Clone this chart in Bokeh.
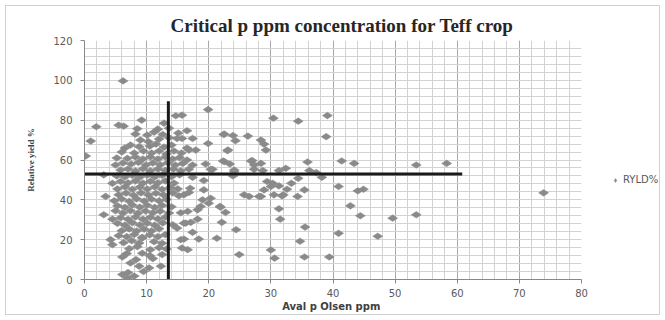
import math
from bokeh.plotting import figure
from bokeh.layouts import row
from bokeh.models import (Range1d, SingleIntervalTicker, Legend, LegendItem, ColumnDataSource)
from bokeh.embed import file_html
from bokeh.resources import INLINE

# ---------------- data ----------------
title_text = "Critical p ppm concentration for Teff crop"
x_label = "Aval p Olsen  ppm"
y_label = "Relative yield %"
series_name = "RYLD%"

# scattered points outside the dense cluster
outer_x = [19.9, 30.4, 34.4, 39.1, 38.9, 22.4, 23.9, 26.3, 28.4, 28.9, 24.3, 19.9, 23.1, 29.2,
           35.9, 41.4, 43.4, 53.4, 58.3, 22.3, 23.4, 26.8, 27.3, 19.5, 20.3, 24.1, 23.9, 27.3,
           28.7, 31.3, 32.4, 36.2, 37.3, 38.2, 34.4, 33.3, 29.4, 30.0, 31.3, 32.6, 28.9, 35.4,
           40.9, 44.0, 44.9, 25.7, 26.5, 28.4, 30.5, 31.8, 34.3, 20.3, 19.0, 20.0, 21.8, 42.8,
           22.7, 31.3, 44.4, 49.6, 53.4, 31.5, 22.1, 35.5, 24.4, 40.9, 47.2, 21.3, 34.7, 30.0,
           24.9, 30.6, 35.4, 39.4, 73.9,
           16.5, 17.4, 16.8, 17.9, 22.5, 23.0, 27.0, 15.7, 17.4, 19.2, 16.0, 19.2, 16.6, 18.2,
           16.3, 18.2, 17.4, 16.0, 18.4, 15.7, 28.1, 16.5, 17.4, 20.6, 22.5, 24.1, 28.4, 16.8,
           18.7, 17.1, 21.9, 30.3, 32.0]
outer_y = [85.3, 81.0, 79.5, 82.3, 71.7, 72.8, 72.3, 72.0, 70.0, 68.0, 69.7, 68.3, 65.0, 65.0,
           59.0, 59.5, 58.3, 57.5, 58.3, 59.5, 58.0, 59.5, 57.5, 58.0, 55.3, 54.2, 52.0, 55.3,
           54.7, 54.7, 55.8, 54.7, 53.7, 51.3, 50.8, 48.3, 49.2, 46.7, 47.0, 45.3, 45.0, 45.0,
           46.7, 44.5, 45.3, 42.5, 41.7, 41.7, 42.5, 42.0, 41.7, 40.8, 40.0, 38.3, 36.7, 37.0,
           33.7, 35.5, 32.0, 30.8, 32.5, 30.3, 28.7, 26.3, 25.0, 23.2, 21.7, 20.7, 19.2, 14.8,
           12.5, 10.7, 11.3, 11.3, 43.5,
           74.7, 70.8, 65.0, 65.0, 73.0, 64.7, 59.7, 70.8, 51.3, 49.7, 42.5, 45.0, 34.2, 35.0,
           28.3, 30.3, 23.7, 20.3, 20.3, 15.8, 41.7, 60.0, 57.5, 55.3, 59.2, 55.0, 58.3, 43.7,
           36.7, 28.7, 36.3, 48.3, 42.5]

# dense cluster (low Olsen P)
cluster_x = [6.2, 9.2, 12.8, 14.7, 15.7,
             1.9, 5.5, 6.3, 8.5, 11.8, 13.6,
             8.2, 10.1, 11.2, 12.6, 15.1,
             1.0, 9.0, 10.3, 12.0, 13.6, 14.9,
             6.5, 7.4, 8.8, 10.5, 11.5, 12.8, 14.0, 16.5,
             6.0, 8.0, 9.5, 10.8, 12.0, 13.2, 14.4, 15.6,
             0.2, 5.2, 6.9, 8.2, 9.4, 10.6, 11.8, 13.0, 14.2, 15.3,
             5.0, 6.2, 7.5, 8.7, 9.9, 11.0, 12.2, 13.4, 14.6, 15.8,
             5.8, 7.0, 8.2, 9.4, 10.6, 11.8, 13.0, 14.3, 15.5, 16.8,
             3.1, 5.2, 6.5, 7.7, 8.9, 10.1, 11.3, 12.5, 14.0, 15.3,
             4.5, 5.8, 7.0, 8.2, 9.4, 10.6, 11.8, 13.0, 14.4,
             5.3, 6.5, 7.7, 8.9, 10.1, 11.3, 12.5, 13.8, 15.0, 17.0,
             3.4, 5.5, 6.7, 7.9, 9.1, 10.3, 11.5, 12.7, 14.2, 15.2,
             4.8, 6.0, 7.2, 8.4, 9.6, 10.8, 12.0, 13.2,
             5.3, 6.5, 7.7, 8.9, 10.1, 11.3, 12.5, 14.0,
             3.1, 5.0, 6.2, 7.4, 8.6, 9.8, 11.0, 12.2, 13.6, 15.5,
             4.5, 5.8, 7.0, 8.2, 9.4, 10.6, 11.8, 13.0,
             5.3, 6.5, 7.7, 8.9, 10.1, 11.3, 12.6, 14.2, 16.0,
             6.0, 7.2, 8.4, 9.6, 10.8, 12.0, 14.9,
             5.5, 6.8, 8.0, 9.3, 10.5, 11.8, 13.0,
             4.2, 4.5, 6.3, 7.6, 8.8, 11.2, 12.5, 15.5, 9.3,
             7.2, 8.5, 10.6, 12.0, 13.2, 16.6,
             6.8, 9.3, 10.5, 12.5,
             6.1, 8.3, 11.0, 7.4,
             8.8, 10.4, 12.3, 9.5,
             6.1, 6.9, 8.0, 7.0]
cluster_y = [99.7, 80.0, 78.5, 82.2, 82.5,
             76.7, 77.5, 77.0, 75.7, 75.5, 76.0,
             73.0, 72.5, 74.0, 72.8, 73.5,
             69.5, 70.0, 69.2, 70.5, 71.2, 70.8,
             66.0, 67.5, 66.7, 67.0, 68.0, 66.5, 67.5, 66.0,
             64.0, 63.5, 64.5, 63.5, 64.5, 63.0, 64.5, 63.5,
             62.0, 61.0, 60.8, 61.5, 60.5, 61.5, 60.5, 61.5, 60.5, 61.2,
             57.5, 58.5, 58.0, 58.8, 57.5, 58.5, 57.6, 58.6, 57.5, 58.3,
             55.0, 55.5, 54.5, 55.6, 54.6, 55.5, 54.8, 55.5, 54.6, 55.4,
             52.5, 52.0, 51.5, 52.3, 51.4, 52.4, 51.5, 52.3, 51.6, 52.5,
             48.3, 49.2, 48.5, 49.5, 48.4, 49.3, 48.5, 49.5, 48.4,
             45.5, 46.5, 45.3, 46.4, 45.4, 46.5, 45.3, 46.2, 45.5, 45.8,
             41.7, 42.5, 43.4, 42.3, 43.5, 42.4, 43.3, 42.5, 43.5, 42.0,
             39.5, 40.4, 39.3, 40.5, 39.4, 40.3, 39.5, 40.2,
             37.0, 36.2, 37.4, 36.3, 37.3, 36.2, 37.2, 36.5,
             32.5, 34.5, 33.4, 34.5, 33.3, 34.4, 33.5, 34.3, 33.4, 33.5,
             30.3, 31.0, 30.2, 31.4, 30.3, 31.2, 30.4, 31.3,
             28.2, 27.3, 28.5, 27.4, 28.3, 27.3, 28.4, 27.5, 28.3,
             24.5, 25.4, 24.3, 25.3, 24.4, 25.5, 25.8,
             22.0, 21.5, 22.6, 21.2, 22.4, 21.5, 22.5,
             20.0, 17.5, 18.5, 19.5, 18.3, 19.0, 18.2, 20.0, 20.8,
             15.5, 16.5, 15.0, 16.0, 15.3, 15.0,
             13.0, 13.2, 12.0, 12.5,
             11.3, 10.0, 10.5, 8.3,
             6.7, 5.8, 6.7, 4.0,
             2.5, 0.8, 1.7, 3.5]

# critical-level reference lines
crit_h_x = [-0.5, 60.8]
crit_h_y = [53.0, 53.0]
crit_v_x = [13.5, 13.5]
crit_v_y = [-2.0, 89.5]

pts_x = outer_x + cluster_x
pts_y = outer_y + cluster_y

MARK = dict(marker="diamond", size=10, angle=math.pi / 2,
            fill_color="#8a8a8a", line_color="#8a8a8a", line_width=0.5)

# ---------------- main figure ----------------
p = figure(width=585, height=308, output_backend="svg", toolbar_location=None,
           x_range=Range1d(0, 80), y_range=Range1d(0, 120),
           min_border_left=78, min_border_right=10, min_border_top=34, min_border_bottom=34,
           outline_line_color=None, background_fill_color="white", border_fill_color="white")

p.title.text = title_text
p.title.text_font = "Liberation Serif"
p.title.text_font_style = "bold"
p.title.text_font_size = "19px"
p.title.text_color = "#262626"
p.title.align = "left"
p.title.offset = 86
p.title.standoff = 10

xt = SingleIntervalTicker(interval=10, num_minor_ticks=5)
yt = SingleIntervalTicker(interval=20, num_minor_ticks=5)
p.xaxis.ticker = xt
p.yaxis.ticker = yt
p.xgrid.ticker = xt
p.ygrid.ticker = yt
p.xgrid.grid_line_color = "#a9a9a9"
p.xgrid.minor_grid_line_color = "#d3d3d3"
p.ygrid.grid_line_color = "#d3d3d3"
p.ygrid.minor_grid_line_color = "#d3d3d3"

for ax in (p.xaxis[0], p.yaxis[0]):
    ax.axis_line_color = "#888888"
    ax.major_tick_line_color = "#888888"
    ax.major_tick_out = 4
    ax.major_tick_in = 0
    ax.minor_tick_line_color = None
    ax.major_label_text_font = "DejaVu Sans"
    ax.major_label_text_font_size = "10px"
    ax.major_label_text_color = "#595959"

p.yaxis.major_label_standoff = 8
p.xaxis.major_label_standoff = 5

p.xaxis.axis_label = x_label
p.xaxis.axis_label_text_font = "DejaVu Sans"
p.xaxis.axis_label_text_font_style = "bold"
p.xaxis.axis_label_text_font_size = "10px"
p.xaxis.axis_label_text_color = "#404040"
p.xaxis.axis_label_standoff = 1

p.yaxis.axis_label = y_label
p.yaxis.axis_label_text_font = "Liberation Sans Narrow"
p.yaxis.axis_label_text_font_style = "bold"
p.yaxis.axis_label_text_font_size = "9px"
p.yaxis.axis_label_text_color = "#404040"
p.yaxis.axis_label_standoff = 14

src = ColumnDataSource(data=dict(x=pts_x, y=pts_y))
p.scatter("x", "y", source=src, **MARK)

p.line(crit_h_x, crit_h_y, line_color="#1a1a1a", line_width=3)
p.line(crit_v_x, crit_v_y, line_color="#1a1a1a", line_width=3)

# ---------------- legend strip ----------------
q = figure(width=68, height=308, output_backend="svg", toolbar_location=None,
           x_range=Range1d(0, 1), y_range=Range1d(0, 1),
           min_border_left=0, min_border_right=0, min_border_top=0, min_border_bottom=0,
           outline_line_color=None, background_fill_color="white", border_fill_color="white")
q.axis.visible = False
q.grid.visible = False
# one proxy point kept outside the strip's visible range, only to feed the legend glyph
rq = q.scatter(x=[5.0], y=[5.0], **MARK)
legend = Legend(items=[LegendItem(label=series_name, renderers=[rq])],
                location=(19, 94), border_line_color=None, background_fill_alpha=0,
                padding=2, margin=0, glyph_width=10, glyph_height=10, label_standoff=3,
                label_text_font="DejaVu Sans", label_text_font_size="10px",
                label_text_color="#595959")
q.add_layout(legend)

layout = row(p, q, margin=(5, 5, 5, 5), styles={"border": "1px solid #d0d0d0"})

open("out.html", "w").write(file_html(layout, INLINE))
